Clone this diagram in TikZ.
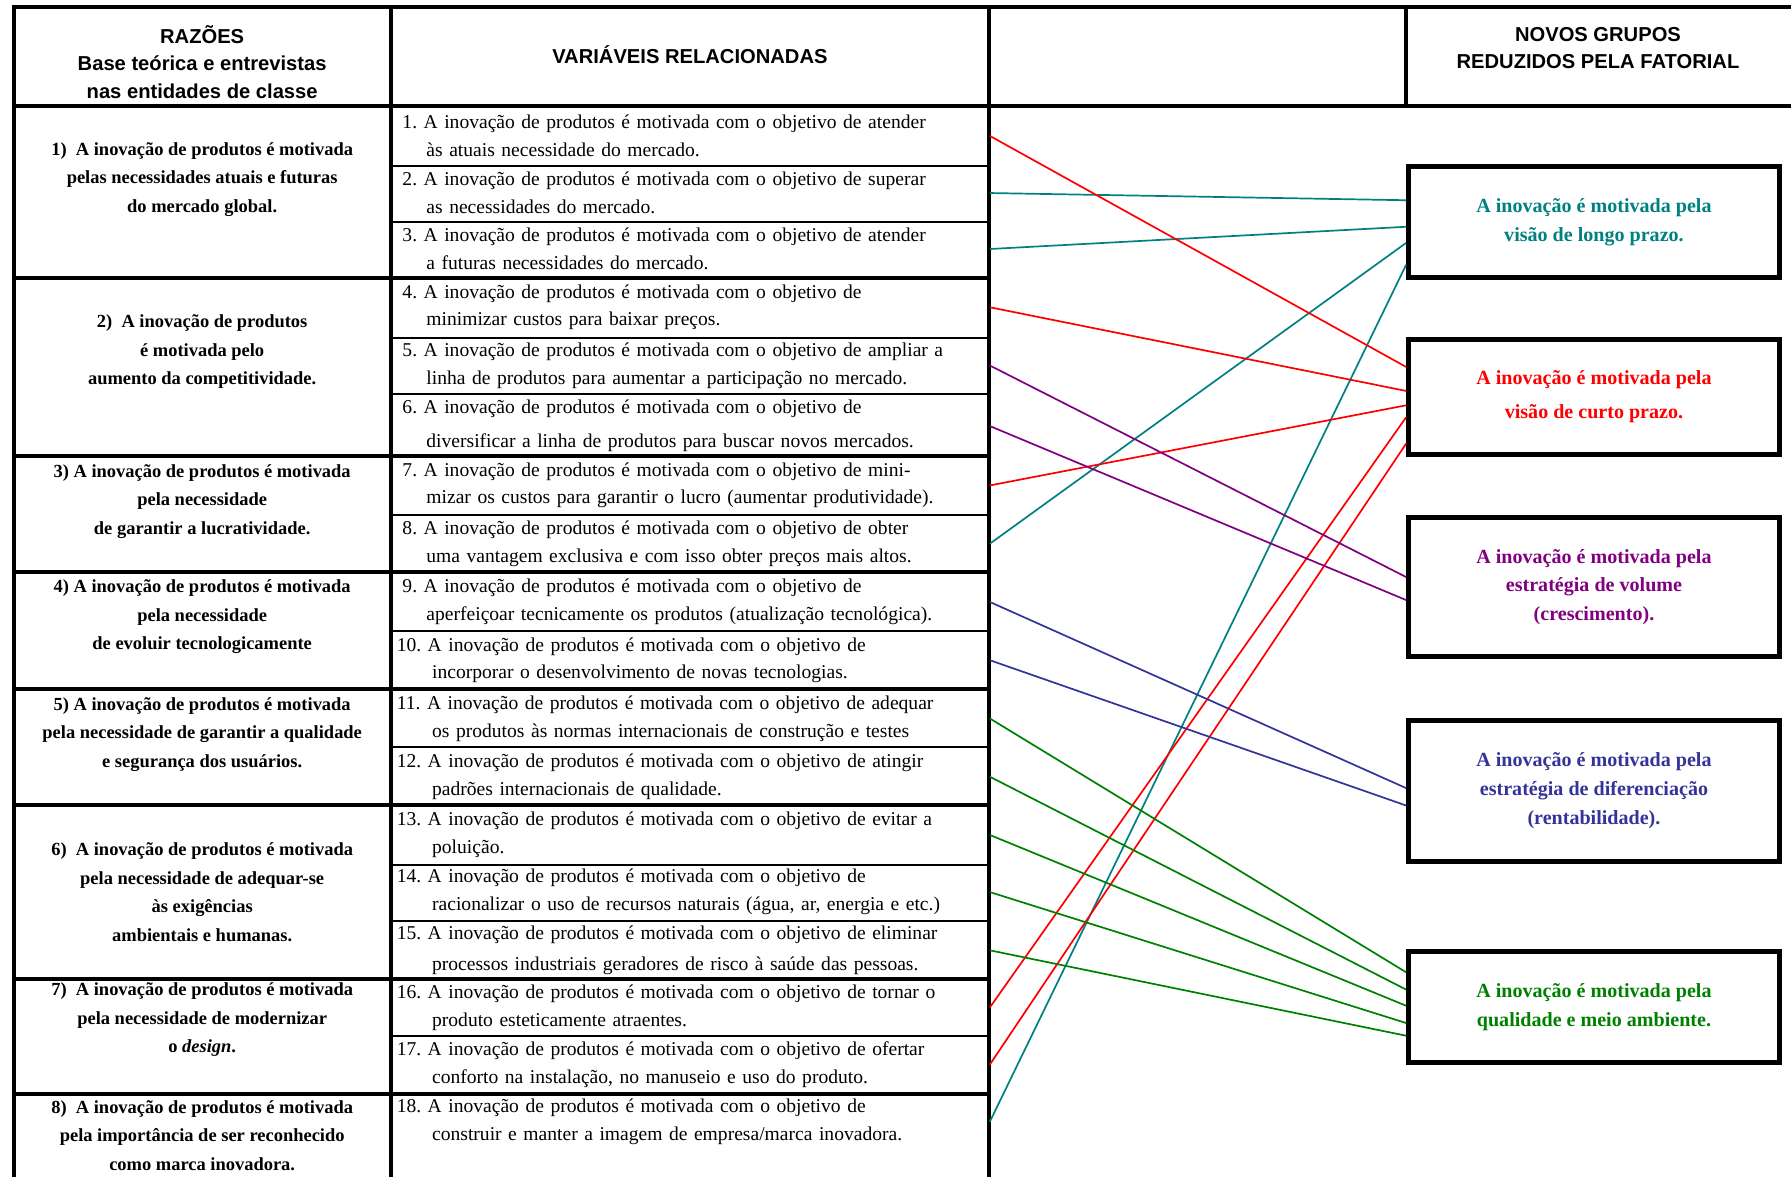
\documentclass[tikz,border=0pt]{standalone}
\usepackage{fontspec}
\setmainfont{Liberation Serif}
\newfontfamily\headfont{Liberation Sans}
\usetikzlibrary{calc, positioning}
\frenchspacing
\definecolor{grpTeal}{HTML}{008080}
\definecolor{grpRed}{HTML}{FF0000}
\definecolor{grpPurple}{HTML}{800080}
\definecolor{grpBlue}{HTML}{333399}
\definecolor{grpGreen}{HTML}{008000}
\newcommand{\ind}{\hspace*{0.52cm}}
\newcommand{\indw}{\hspace*{0.62cm}}
\tikzset{
  % table rules
  rulethick/.style = {line width=2pt, line cap=rect},
  rulethin/.style  = {line width=1pt},
  headtxt/.style   = {font=\headfont\bfseries\fontsize{10.05pt}{13.7pt}\selectfont, align=center},
  reason/.style    = {font=\bfseries\fontsize{9.2pt}{14.2pt}\selectfont, align=center},
  varcell/.style   = {font=\fontsize{9.75pt}{13.8pt}\selectfont, anchor=west, inner xsep=0.1cm,
                      inner ysep=0pt, text width=10.28cm, align=left},
  grpbox/.style    = {draw=black, line width=2.3pt, minimum width=6.5cm, align=center,
                      font=\bfseries\fontsize{10pt}{14.4pt}\selectfont},
  conn/.style      = {line width=0.85pt},
}

\begin{document}
\begin{tikzpicture}[x=0.02cm, y=-0.02cm]
  \useasboundingbox (0,0) rectangle (1568,1030);
  % --- table frame ---------------------------------------------------------
  \draw[rulethick] (12,6) -- (1568,6);
  \draw[rulethick] (12,93) -- (1568,93);
  \foreach \x in {12, 342, 866} \draw[rulethick] (\x,6) -- (\x,1030);
  \draw[rulethick] (1231,6) -- (1231,93);
  \foreach \y in {243, 399, 501, 603, 705, 857, 958} \draw[rulethick] (12,\y) -- (866,\y);
  \foreach \y in {145, 194, 296, 345, 451, 552, 654, 757, 806, 907} \draw[rulethin] (342,\y) -- (866,\y);
  % --- headers -------------------------------------------------------------
  \node[headtxt] (hRaz) at (177,54) {RAZÕES\\Base teórica e entrevistas\\nas entidades de classe};
  \node[headtxt] (hVar) at (604,48) {VARIÁVEIS RELACIONADAS};
  \node[headtxt] (hNov) at (1399,42) {NOVOS GRUPOS\\REDUZIDOS PELA FATORIAL};
  % --- reasons -------------------------------------------------------------
  \node[reason] (r1) at (177,157) {1)~ A inovação de produtos é motivada\\pelas necessidades atuais e futuras\\do mercado global.};
  \node[reason] (r2) at (177,308) {2)~ A inovação de produtos\\é motivada pelo\\aumento da competitividade.};
  \node[reason] (r3) at (177,439) {3) A inovação de produtos é motivada\\pela necessidade\\de garantir a lucratividade.};
  \node[reason] (r4) at (177,540) {4) A inovação de produtos é motivada\\pela necessidade\\de evoluir tecnologicamente};
  \node[reason] (r5) at (177,643) {5) A inovação de produtos é motivada\\pela necessidade de garantir a qualidade\\e segurança dos usuários.};
  \node[reason] (r6) at (177,781) {6)~ A inovação de produtos é motivada\\pela necessidade de adequar-se\\às exigências\\ambientais e humanas.};
  \node[reason] (r7) at (177,893) {7)~ A inovação de produtos é motivada\\pela necessidade de modernizar\\o \textit{design}.};
  \node[reason] (r8) at (177,994) {8)~ A inovação de produtos é motivada\\pela importância de ser reconhecido\\como marca inovadora.};
  % --- variables -----------------------------------------------------------
  \node[varcell] (v1)  at (342,119) {\hspace*{0.1cm}1. A inovação de produtos é motivada com o objetivo de atender\\\ind às atuais necessidade do mercado.};
  \node[varcell] (v2)  at (342,169) {\hspace*{0.1cm}2. A inovação de produtos é motivada com o objetivo de superar\\\ind as necessidades do mercado.};
  \node[varcell] (v3)  at (342,218) {\hspace*{0.1cm}3. A inovação de produtos é motivada com o objetivo de atender\\\ind a futuras necessidades do mercado.};
  \node[varcell] (v4)  at (342,269) {\hspace*{0.1cm}4. A inovação de produtos é motivada com o objetivo de\\\ind minimizar custos para baixar preços.};
  \node[varcell] (v5)  at (342,320) {\hspace*{0.1cm}5. A inovação de produtos é motivada com o objetivo de ampliar a\\\ind linha de produtos para aumentar a participação no mercado.};
  \node[varcell] (v6)  at (342,373) {\hspace*{0.1cm}6. A inovação de produtos é motivada com o objetivo de\\[3pt]\ind diversificar a linha de produtos para buscar novos mercados.};
  \node[varcell] (v7)  at (342,425) {\hspace*{0.1cm}7. A inovação de produtos é motivada com o objetivo de mini-\\\ind mizar os custos para garantir o lucro (aumentar produtividade).};
  \node[varcell] (v8)  at (342,476) {\hspace*{0.1cm}8. A inovação de produtos é motivada com o objetivo de obter\\\ind uma vantagem exclusiva e com isso obter preços mais altos.};
  \node[varcell] (v9)  at (342,527) {\hspace*{0.1cm}9. A inovação de produtos é motivada com o objetivo de\\\ind aperfeiçoar tecnicamente os produtos (atualização tecnológica).};
  \node[varcell] (v10) at (342,578) {10. A inovação de produtos é motivada com o objetivo de\\\indw incorporar o desenvolvimento de novas tecnologias.};
  \node[varcell] (v11) at (342,629) {11. A inovação de produtos é motivada com o objetivo de adequar\\\indw os produtos às normas internacionais de construção e testes};
  \node[varcell] (v12) at (342,680) {12. A inovação de produtos é motivada com o objetivo de atingir\\\indw padrões internacionais de qualidade.};
  \node[varcell] (v13) at (342,731) {13. A inovação de produtos é motivada com o objetivo de evitar a\\\indw poluição.};
  \node[varcell] (v14) at (342,781) {14. A inovação de produtos é motivada com o objetivo de\\\indw racionalizar o uso de recursos naturais (água, ar, energia e etc.)};
  \node[varcell] (v15) at (342,832) {15. A inovação de produtos é motivada com o objetivo de eliminar\\[1.5pt]\indw processos industriais geradores de risco à saúde das pessoas.};
  \node[varcell] (v16) at (342,882) {16. A inovação de produtos é motivada com o objetivo de tornar o\\\indw produto esteticamente atraentes.};
  \node[varcell] (v17) at (342,932) {17. A inovação de produtos é motivada com o objetivo de ofertar\\\indw conforto na instalação, no manuseio e uso do produto.};
  \node[varcell] (v18) at (342,982) {18. A inovação de produtos é motivada com o objetivo de\\\indw construir e manter a imagem de empresa/marca inovadora.};
  % --- new groups ----------------------------------------------------------
  \node[grpbox, text=grpTeal,   minimum height=1.94cm] (longo)  at (1395.5,194.5) {A inovação é motivada pela\\visão de longo prazo.};
  \node[grpbox, text=grpRed,    minimum height=2.02cm, font=\bfseries\fontsize{10pt}{17pt}\selectfont] (curto) at (1395.5,347.5) {A inovação é motivada pela\\visão de curto prazo.};
  \node[grpbox, text=grpPurple, minimum height=2.44cm] (volume) at (1395.5,514) {A inovação é motivada pela\\estratégia de volume\\(crescimento).};
  \node[grpbox, text=grpBlue,   minimum height=2.46cm] (difer)  at (1395.5,692.5) {A inovação é motivada pela\\estratégia de diferenciação\\(rentabilidade).};
  \node[grpbox, text=grpGreen,  minimum height=1.94cm] (quali)  at (1395.5,881.5) {A inovação é motivada pela\\qualidade e meio ambiente.};
  % --- links ---------------------------------------------------------------
  \draw[conn, grpTeal] (v2.east)  -- ($(longo.north west)!0.31!(longo.south west)$);
  \draw[conn, grpTeal] (v3.east)  -- ($(longo.north west)!0.54!(longo.south west)$);
  \draw[conn, grpTeal] (v8.east)  -- ($(longo.north west)!0.68!(longo.south west)$);
  \draw[conn, grpTeal] (v18.east) -- ($(longo.north west)!0.87!(longo.south west)$);
  \draw[conn, grpRed] (v1.east)  -- ($(curto.north west)!0.25!(curto.south west)$);
  \draw[conn, grpRed] (v4.east)  -- ($(curto.north west)!0.45!(curto.south west)$);
  \draw[conn, grpRed] (v7.east)  -- ($(curto.north west)!0.57!(curto.south west)$);
  \draw[conn, grpRed] (v16.east) -- ($(curto.north west)!0.67!(curto.south west)$);
  \draw[conn, grpRed] (v17.east) -- ($(curto.north west)!0.89!(curto.south west)$);
  \draw[conn, grpPurple] (v5.east) -- ($(volume.north west)!0.43!(volume.south west)$);
  \draw[conn, grpPurple] (v6.east) -- ($(volume.north west)!0.59!(volume.south west)$);
  \draw[conn, grpBlue] (v9.east)  -- ($(difer.north west)!0.48!(difer.south west)$);
  \draw[conn, grpBlue] (v10.east) -- ($(difer.north west)!0.60!(difer.south west)$);
  \foreach \v/\f in {11/0.20, 12/0.35, 13/0.49, 14/0.64, 15/0.75}
    \draw[conn, grpGreen] (v\v.east) -- ($(quali.north west)!\f!(quali.south west)$);
\end{tikzpicture}
\end{document}
